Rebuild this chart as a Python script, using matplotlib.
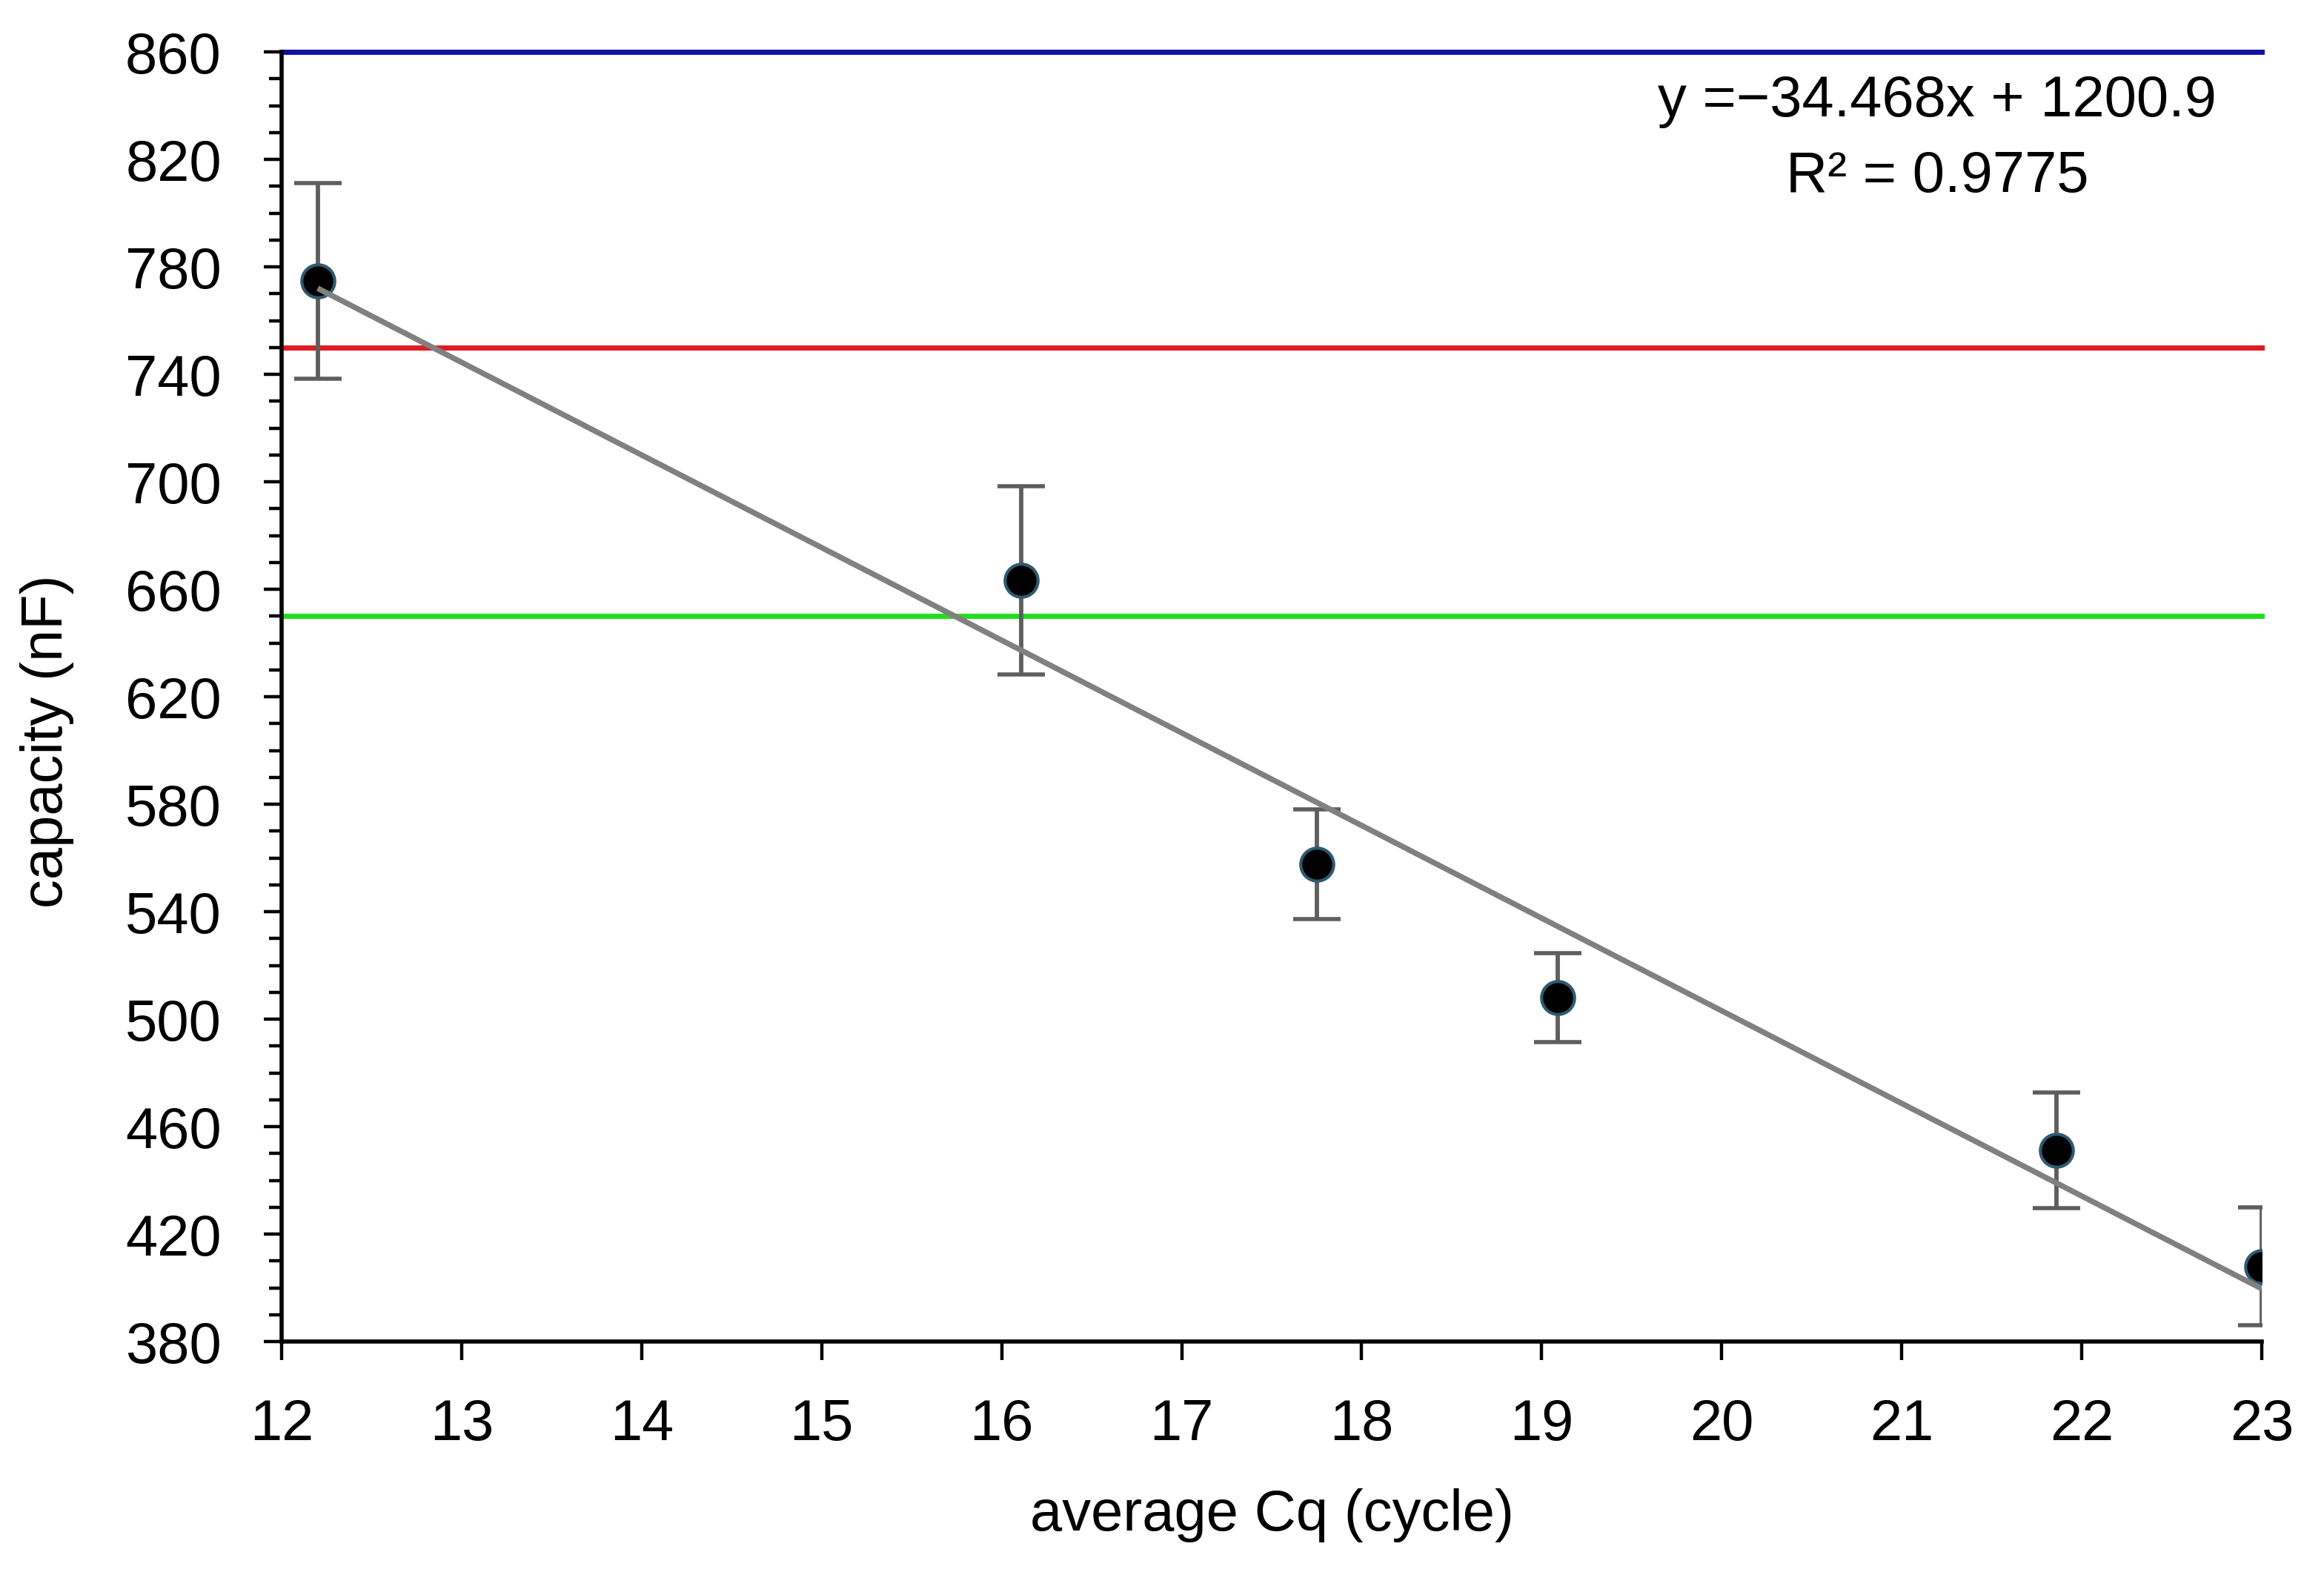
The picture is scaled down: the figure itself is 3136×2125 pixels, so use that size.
import numpy as np
import matplotlib
matplotlib.use("Agg")
import matplotlib.pyplot as plt
from matplotlib.ticker import MultipleLocator

plt.rcParams['font.family'] = ['Liberation Sans', 'DejaVu Sans']

# data
cq = [12.20, 16.11, 17.75, 19.09, 21.86, 23.00]
capacity = [774.9, 663.3, 557.7, 508.0, 451.3, 408.0]
cap_err = [36.4, 35.0, 20.5, 16.5, 21.5, 22.0]
threshold_levels = [860, 750, 650]
threshold_colors = ['#1212A0', '#E01B22', '#22DD22']
x_ticks = list(range(12, 24))
y_ticks = list(range(380, 861, 40))
eq_text = "y =\u221234.468x + 1200.9"
r2_text = "R\u00b2 = 0.9775"

FS = 56

fig = plt.figure(figsize=(31.36, 21.25), dpi=100)
ax = fig.add_axes([0.1212, 0.1482, 0.9732 - 0.1212, 0.967 - 0.1482])

for lvl, col in zip(threshold_levels, threshold_colors):
    ax.axhline(lvl, color=col, lw=5, zorder=2, clip_on=False)

ax.errorbar(cq, capacity, yerr=cap_err, fmt='none', ecolor='#5E5E5E',
            elinewidth=4.2, capsize=23, capthick=4.0, zorder=3)
ax.plot(cq, capacity, 'o', ms=32, mfc='black', mec='#2E5A70', mew=3.0,
        zorder=4, linestyle='none')

coef = np.polyfit(cq, capacity, 1)
xs = np.array([min(cq), max(cq)])
ax.plot(xs, np.polyval(coef, xs), color='#808080', lw=5.4, zorder=5,
        solid_capstyle='butt')

ax.set_xlim(12, 23)
ax.set_ylim(380, 860)
ax.set_xticks(x_ticks)
ax.set_yticks(y_ticks)
ax.yaxis.set_minor_locator(MultipleLocator(10))
ax.tick_params(axis='both', which='major', labelsize=FS, width=3.2,
               direction='out', color='black')
ax.tick_params(axis='y', which='major', length=17.5, pad=41)
ax.tick_params(axis='y', which='minor', length=12.5, width=3.2)
ax.tick_params(axis='x', which='major', length=18, pad=37)
for s in ['top', 'right']:
    ax.spines[s].set_visible(False)
for s in ['left', 'bottom']:
    ax.spines[s].set_linewidth(4.0)
    ax.spines[s].set_zorder(6)
ax.set_xlabel('average Cq (cycle)', fontsize=FS, labelpad=35)
ax.set_ylabel('capacity (nF)', fontsize=FS, labelpad=50)
ax.yaxis.label.set_y(0.4655)

fig.text(2614 / 3136, 1 - 136 / 2125, eq_text, fontsize=FS, ha='center', va='center')
fig.text(2614 / 3136, 1 - 238 / 2125, r2_text, fontsize=FS, ha='center', va='center')

fig.savefig('out.png', dpi=100, facecolor='white')
